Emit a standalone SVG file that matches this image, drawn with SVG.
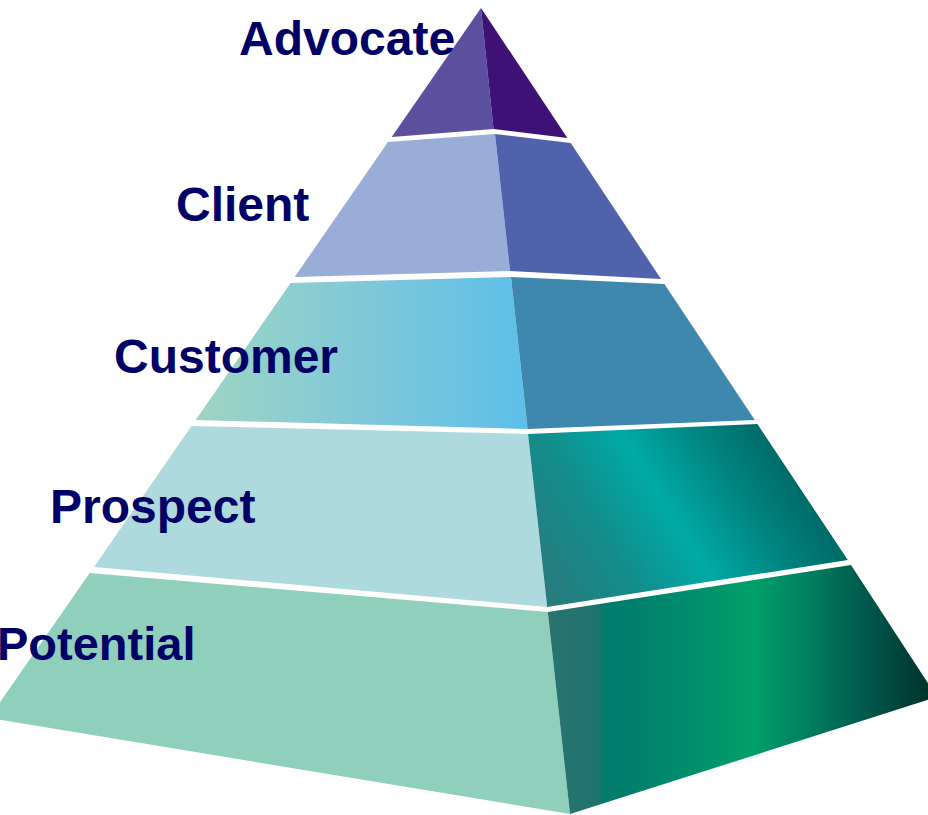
<svg xmlns="http://www.w3.org/2000/svg" width="928" height="815" viewBox="0 0 928 815">
  <defs>
    <style>
      .lbl { font-family: "Liberation Sans", Arial, sans-serif; font-weight: bold; font-size: 48px; fill: #000066; }
    </style>
    <linearGradient id="custL" gradientUnits="userSpaceOnUse" x1="197" y1="0" x2="527" y2="0">
      <stop offset="0" stop-color="#9ed5c3"/>
      <stop offset="0.5" stop-color="#80c8d8"/>
      <stop offset="1" stop-color="#5dbfe9"/>
    </linearGradient>
    <linearGradient id="prosR" gradientUnits="userSpaceOnUse" x1="547" y1="607" x2="785" y2="459">
      <stop offset="0" stop-color="#2b7a7c"/>
      <stop offset="0.3" stop-color="#138c8b"/>
      <stop offset="0.55" stop-color="#00aaa6"/>
      <stop offset="0.8" stop-color="#008480"/>
      <stop offset="1" stop-color="#006a66"/>
    </linearGradient>
    <linearGradient id="potR" gradientUnits="userSpaceOnUse" x1="548" y1="0" x2="928" y2="0">
      <stop offset="0" stop-color="#2a7370"/>
      <stop offset="0.13" stop-color="#1e736e"/>
      <stop offset="0.15" stop-color="#007a6d"/>
      <stop offset="0.4" stop-color="#00906c"/>
      <stop offset="0.54" stop-color="#00a068"/>
      <stop offset="0.67" stop-color="#008262"/>
      <stop offset="0.83" stop-color="#005a4c"/>
      <stop offset="1" stop-color="#00342e"/>
    </linearGradient>
  </defs>
  <rect x="0" y="0" width="928" height="815" fill="#ffffff"/>

  <g id="layer-potential">
    <polygon points="89.7,573 547.8,612 570,814 -11,718" fill="#91cfbd"/>
    <polygon points="547.8,612 851,565 937,697 570,814" fill="url(#potR)"/>
    <text class="lbl" x="-3" y="660" style="font-size:47px">Potential</text>
  </g>

  <g id="layer-prospect">
    <polygon points="191.5,426 528,434 547.2,607 94,567" fill="#aed9dd"/>
    <polygon points="528,434 757.4,424 847.8,560 547.2,607" fill="url(#prosR)"/>
    <text class="lbl" x="50" y="523">Prospect</text>
  </g>

  <g id="layer-customer">
    <polygon points="290.6,283 511,277 527.6,429 195.7,420" fill="url(#custL)"/>
    <polygon points="511,277 664.4,284 754.8,420 527.6,429" fill="#3e87ad"/>
    <text class="lbl" x="114" y="373">Customer</text>
  </g>

  <g id="layer-client">
    <polygon points="388,142 495,134 510,271 294.7,277" fill="#99add7"/>
    <polygon points="495,134 570.7,143 661,279 510,271" fill="#5062ab"/>
    <text class="lbl" x="176" y="221">Client</text>
  </g>

  <g id="layer-advocate">
    <polygon points="481,8 493.5,129 391.7,137" fill="#5b4f9e"/>
    <polygon points="481,8 567.4,138 493.5,129" fill="#3e1176"/>
    <text class="lbl" x="239" y="55">Advocate</text>
  </g>
</svg>
